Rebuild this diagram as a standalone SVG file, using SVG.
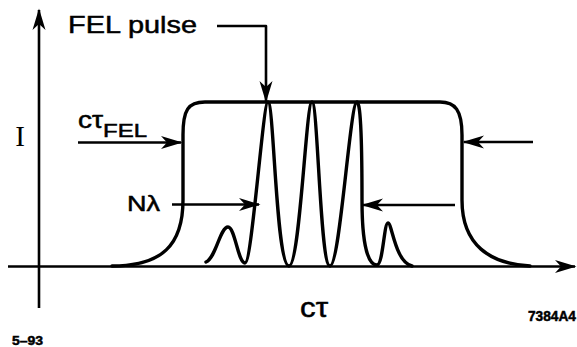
<svg xmlns="http://www.w3.org/2000/svg" width="577" height="347" viewBox="0 0 577 347">
<style>
.ln{fill:none;stroke:#000;stroke-width:2.6;stroke-linejoin:round}
.cv{fill:none;stroke:#000;stroke-width:3.4;stroke-linejoin:round;stroke-linecap:round}
.ar{marker-end:url(#ah)}
.sans{font-family:"Liberation Sans",Arial,sans-serif;fill:#000;stroke:#000;stroke-width:0.5}
.serif{font-family:"Liberation Serif","Times New Roman",serif;fill:#000}
</style>
<defs>
<marker id="ah" viewBox="-22 -8 24 16" refX="0" refY="0" markerWidth="24" markerHeight="16" markerUnits="userSpaceOnUse" orient="auto">
<path d="M1.5,0 L-20,-6.5 L-14,0 L-20,6.5 Z" fill="#000"/>
</marker>
</defs>
<rect width="577" height="347" fill="#fff"/>
<g id="axes">
<path class="ln ar" d="M39,308 L39,10"/>
<path class="ln ar" d="M8,266.5 L575,266.5"/>
<text class="serif" x="20" y="146" font-size="29" text-anchor="middle">I</text>
<text class="sans" x="300" y="317" font-size="27" textLength="28" lengthAdjust="spacingAndGlyphs">cτ</text>
</g>
<g id="envelope">
<path class="cv" d="M112,266 C162,266 183,245 183,200 L183,135 C183,110 188,102 205,102 L440,102 C455,102 462,110 462,135 L462,200 C462,245 490,264 530,266"/>
</g>
<g id="pulses">
<path class="cv" d="M206,262 C216,258 220,227 228,227 C235,227 238,263 245,263 C252,263 263,102 268,102 C274,102 276,266 289,266 C300,266 306,102 312,102 C318,102 320,266 330,266 C340,266 350,102 357,102 C361,102 362,150 362,200 C362,245 368,265 377,265 C383,265 384,223 388,223 C392,223 395,262 412,266"/>
</g>
<g id="label-fel-pulse">
<text class="sans" x="68" y="33" font-size="24.5" textLength="129" lengthAdjust="spacingAndGlyphs">FEL pulse</text>
</g>
<g id="label-ctau-fel">
<text class="sans" x="78" y="128" font-size="23" textLength="25" lengthAdjust="spacingAndGlyphs">cτ</text>
<text class="sans" x="103" y="137" font-size="18" textLength="44" lengthAdjust="spacingAndGlyphs">FEL</text>
</g>
<g id="label-nlambda">
<text class="sans" x="127" y="211" font-size="22" textLength="33" lengthAdjust="spacingAndGlyphs">Nλ</text>
</g>
<g id="connectors">
<path class="ln ar" d="M217,26 L266,26 L266,101"/>
<path class="ln ar" d="M78,142.5 L181,142.5"/>
<path class="ln ar" d="M533,142 L464,142"/>
<path class="ln ar" d="M172,204.5 L259,204.5"/>
<path class="ln ar" d="M455,205 L363,205"/>
</g>
<g id="footer">
<text class="sans" x="528" y="321" font-size="14" font-weight="bold" textLength="48" lengthAdjust="spacingAndGlyphs">7384A4</text>
<text class="sans" x="12" y="345" font-size="13" font-weight="bold" textLength="31" lengthAdjust="spacingAndGlyphs">5–93</text>
</g>
</svg>
